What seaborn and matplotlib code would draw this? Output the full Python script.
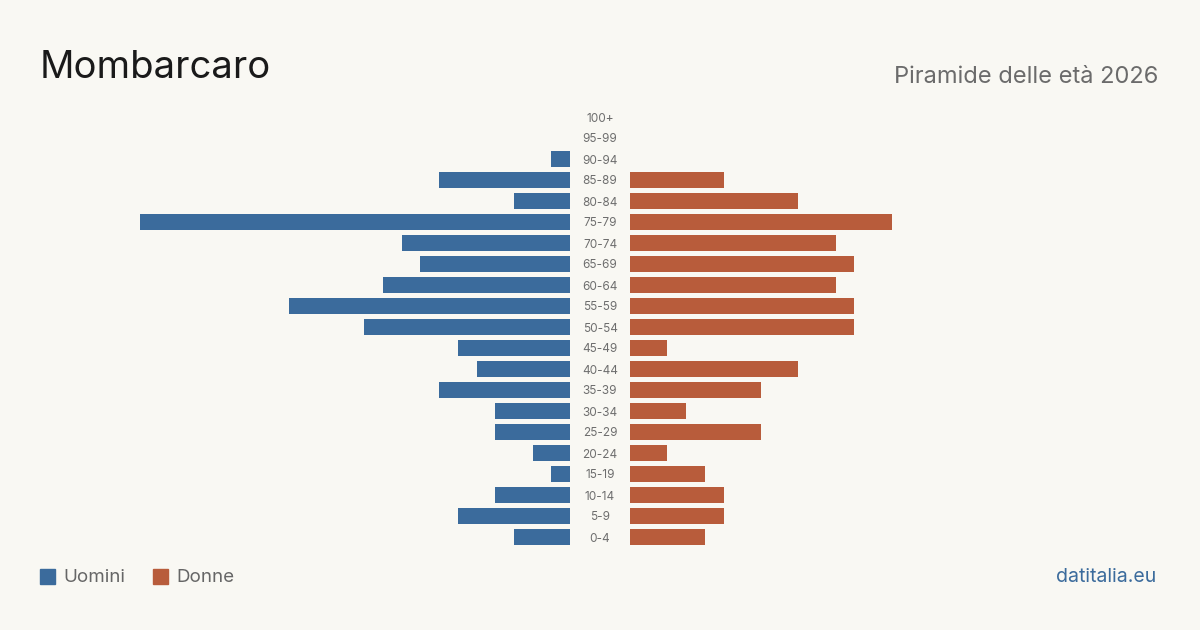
import pandas as pd
import matplotlib.pyplot as plt
import seaborn as sns
from matplotlib.patches import Rectangle

ages = ["100+", "95-99", "90-94", "85-89", "80-84", "75-79", "70-74", "65-69",
        "60-64", "55-59", "50-54", "45-49", "40-44", "35-39", "30-34", "25-29",
        "20-24", "15-19", "10-14", "5-9", "0-4"]
uomini = [0, 0, 1, 7, 3, 23, 9, 8, 10, 15, 11, 6, 5, 7, 4, 4, 2, 1, 4, 6, 3]
donne = [0, 0, 0, 5, 9, 14, 11, 12, 11, 12, 12, 2, 9, 7, 3, 7, 2, 4, 5, 5, 4]

df = pd.DataFrame({"Eta": ages, "Uomini": uomini, "Donne": donne})

bg = "#f9f8f3"
blue = "#3b6b9c"
red = "#b85c3b"

sns.set_theme(style="white")
plt.rcParams["font.family"] = ["Inter", "DejaVu Sans"]

fig = plt.figure(figsize=(12, 6.3), dpi=100, facecolor=bg)
W, H = 1200, 630
xmax = 470 / 18.7
bottom = (H - 547.5) / H
height = 441 / H

ax_l = fig.add_axes([100 / W, bottom, 470 / W, height])
ax_r = fig.add_axes([630 / W, bottom, 470 / W, height])

sns.barplot(data=df, x="Uomini", y="Eta", color=blue, width=0.8, ax=ax_l,
            saturation=1, linewidth=0)
sns.barplot(data=df, x="Donne", y="Eta", color=red, width=0.8, ax=ax_r,
            saturation=1, linewidth=0)

ax_l.set_xlim(xmax, 0)
ax_r.set_xlim(0, xmax)
for ax in (ax_l, ax_r):
    ax.set_facecolor("none")
    ax.set_xlabel("")
    ax.set_ylabel("")
    ax.set_xticks([])
    sns.despine(ax=ax, left=True, bottom=True)
ax_l.set_yticks([])
ax_r.tick_params(axis="y", length=0, pad=21.6, labelsize=8.5, labelcolor="#6e6e6e")
for t in ax_r.get_yticklabels():
    t.set_horizontalalignment("center")

fig.text(40 / W, 1 - 68 / H, "Mombarcaro", fontsize=27.5, color="#1a1a1a",
         va="center", ha="left")
fig.text(1158 / W, 1 - 77 / H, "Piramide delle età 2026", fontsize=17,
         color="#6b6b6b", va="center", ha="right")
fig.text(1156 / W, 1 - 577 / H, "datitalia.eu", fontsize=14, color=blue,
         va="center", ha="right")

# legenda
for x0, col, lab in [(40, blue, "Uomini"), (153, red, "Donne")]:
    fig.patches.append(Rectangle((x0 / W, 1 - 584 / H), 15 / W, 15 / H,
                                 transform=fig.transFigure, color=col))
    fig.text((x0 + 23) / W, 1 - 578 / H, lab, fontsize=13.5, color="#666666",
             va="center", ha="left")

fig.savefig("out.png", dpi=100, facecolor=bg)
